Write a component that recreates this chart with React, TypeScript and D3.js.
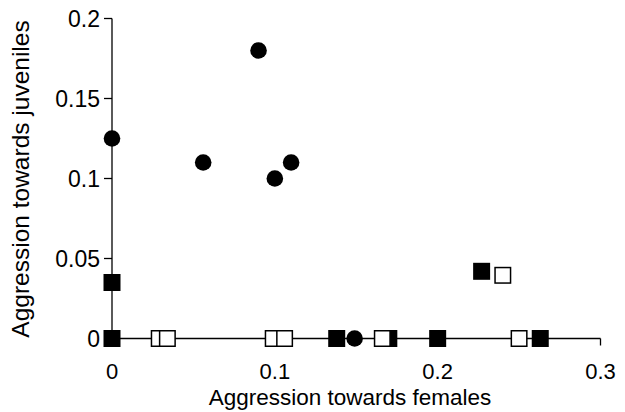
import React from 'react';
import { scaleLinear } from 'd3';

const width = 625;
const height = 412;

// filled squares
const filledSqX = [0, 0, 0.138, 0.17, 0.2, 0.263, 0.227];
const filledSqY = [0.035, 0, 0, 0, 0, 0, 0.042];
// open squares
const openSqX = [0.029, 0.034, 0.099, 0.106, 0.166, 0.25, 0.24];
const openSqY = [0, 0, 0, 0, 0, 0, 0.0395];
// filled circles
const circleX = [0, 0.056, 0.09, 0.1, 0.11, 0.149];
const circleY = [0.125, 0.11, 0.18, 0.1, 0.11, 0];

const xTicks = [0, 0.1, 0.2, 0.3];
const xTickLabels = ['0', '0.1', '0.2', '0.3'];
const yTicks = [0, 0.05, 0.1, 0.15, 0.2];
const yTickLabels = ['0', '0.05', '0.1', '0.15', '0.2'];

const font = '"Liberation Sans", Arial, sans-serif';

const App = () => {
  const xScale = scaleLinear().domain([0, 0.3]).range([112, 600.5]);
  const yScale = scaleLinear().domain([0, 0.2]).range([338.5, 18.5]);
  const sq = 17;
  const r = 8.3;

  return (
    <svg
      width={width}
      height={height}
      style={{ position: 'absolute', left: 0, top: 0, background: '#fff' }}
      fontFamily={font}
    >
      {/* axes */}
      <line x1={xScale(0)} x2={xScale(0)} y1={yScale(0)} y2={yScale(0.2)} stroke="#000" strokeWidth={1.3} />
      <line x1={xScale(0)} x2={xScale(0.3)} y1={yScale(0)} y2={yScale(0)} stroke="#000" strokeWidth={1.3} />
      {yTicks.map((t, i) => (
        <g key={'y' + i}>
          <line x1={xScale(0) - 8} x2={xScale(0)} y1={yScale(t)} y2={yScale(t)} stroke="#000" strokeWidth={1.3} />
          <text x={xScale(0) - 12} y={yScale(t)} dy="0.35em" textAnchor="end" fontSize={23}>
            {yTickLabels[i]}
          </text>
        </g>
      ))}
      {xTicks.map((t, i) => (
        <g key={'x' + i}>
          <line x1={xScale(t)} x2={xScale(t)} y1={yScale(0)} y2={yScale(0) + 7} stroke="#000" strokeWidth={1.3} />
          <text x={xScale(t)} y={379} textAnchor="middle" fontSize={22}>
            {xTickLabels[i]}
          </text>
        </g>
      ))}

      {/* markers */}
      {filledSqX.map((d, i) => (
        <rect key={'f' + i} x={xScale(d) - sq / 2} y={yScale(filledSqY[i]) - sq / 2} width={sq} height={sq} fill="#000" />
      ))}
      {openSqX.map((d, i) => (
        <rect
          key={'o' + i}
          x={xScale(d) - sq / 2 + 0.75}
          y={yScale(openSqY[i]) - sq / 2 + 0.75}
          width={sq - 1.5}
          height={sq - 1.5}
          fill="#fff"
          stroke="#000"
          strokeWidth={1.5}
        />
      ))}
      {circleX.map((d, i) => (
        <circle key={'c' + i} cx={xScale(d)} cy={yScale(circleY[i])} r={r} fill="#000" />
      ))}

      {/* titles */}
      <text x={350} y={405} textAnchor="middle" fontSize={22.5}>
        Aggression towards females
      </text>
      <text transform="translate(29,179) rotate(-90)" textAnchor="middle" fontSize={24.5}>
        Aggression towards juveniles
      </text>
    </svg>
  );
};

export default App;
